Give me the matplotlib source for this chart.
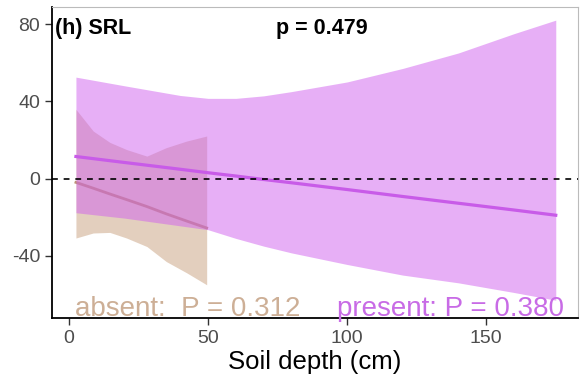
import numpy as np
import matplotlib
matplotlib.use("Agg")
import matplotlib.pyplot as plt

plt.rcParams['font.family'] = ['Liberation Sans', 'DejaVu Sans']
plt.rcParams['axes.unicode_minus'] = False

# "absent" group (0-50 cm)
absent_x = [2.5, 8.7, 14.7, 20.7, 28, 35, 42.3, 49.5]
absent_fit = [-2.0, -5.0, -8.0, -10.9, -14.5, -18.3, -22.0, -25.6]
absent_upper = [35.8, 24.6, 18.7, 15.0, 11.6, 16.0, 19.4, 22.0]
absent_lower = [-30.8, -28.2, -27.9, -30.8, -35.2, -43.0, -48.8, -55.0]

# "present" group (0-175 cm)
present_x = [2.5, 20, 40, 50, 60, 70, 80, 100, 120, 140, 160, 175]
present_fit = [11.4, 8.3, 4.8, 3.0, 1.3, -0.5, -2.2, -5.7, -9.3, -12.8, -16.3, -19.0]
present_upper = [52.5, 48.0, 43.0, 41.5, 41.5, 42.8, 45.0, 50.0, 57.0, 65.0, 75.0, 82.0]
present_lower = [-17.7, -20.5, -24.5, -26.5, -31.0, -35.0, -38.5, -44.5, -50.0, -54.0, -59.0, -63.0]

x_ticks = [0, 50, 100, 150]
y_ticks = [-40, 0, 40, 80]

absent_col = '#BE9275'
present_col = '#C85BE8'

fig = plt.figure(figsize=(5.87, 3.81), dpi=100)
ax = fig.add_axes([0.0886, 0.1654, 0.8961, 0.8162])

ax.fill_between(absent_x, absent_lower, absent_upper, color='#C8A07E', alpha=0.5, lw=0, zorder=1)
ax.plot(absent_x, absent_fit, color=absent_col, lw=2, zorder=2)
ax.fill_between(present_x, present_lower, present_upper, color='#D060EE', alpha=0.5, lw=0, zorder=3)
ax.plot(present_x, present_fit, color=present_col, lw=2.3, zorder=4)
ax.axhline(0, color='black', lw=1.2, ls=(0, (3.5, 3.5)), zorder=5)

ax.set_xlim(-6.1, 183)
ax.set_ylim(-72.2, 88.8)
ax.set_xticks(x_ticks)
ax.set_yticks(y_ticks)
ax.tick_params(labelsize=14, labelcolor='#4D4D4D', color='#333333', length=5, width=1)
ax.set_xlabel('Soil depth (cm)', fontsize=18.5, labelpad=2)

for s in ['left', 'bottom']:
    ax.spines[s].set_color('black')
    ax.spines[s].set_linewidth(1.3)
for s in ['top', 'right']:
    ax.spines[s].set_color('#BBBBBB')
    ax.spines[s].set_linewidth(0.8)

ax.text(0.006, 0.965, '(h) SRL', transform=ax.transAxes, fontsize=15.5,
        fontweight='bold', ha='left', va='top')
ax.text(0.426, 0.965, 'p = 0.479', transform=ax.transAxes, fontsize=15.5,
        fontweight='bold', ha='left', va='top')
ax.text(2.0, -71.0, 'absent:  P = 0.312', color='#CDAF96', fontsize=20,
        ha='left', va='baseline', zorder=6)
ax.text(96.5, -71.0, 'present: P = 0.380', color='#C86BE6', fontsize=20,
        ha='left', va='baseline', zorder=6)

fig.savefig('out.png', dpi=100)
